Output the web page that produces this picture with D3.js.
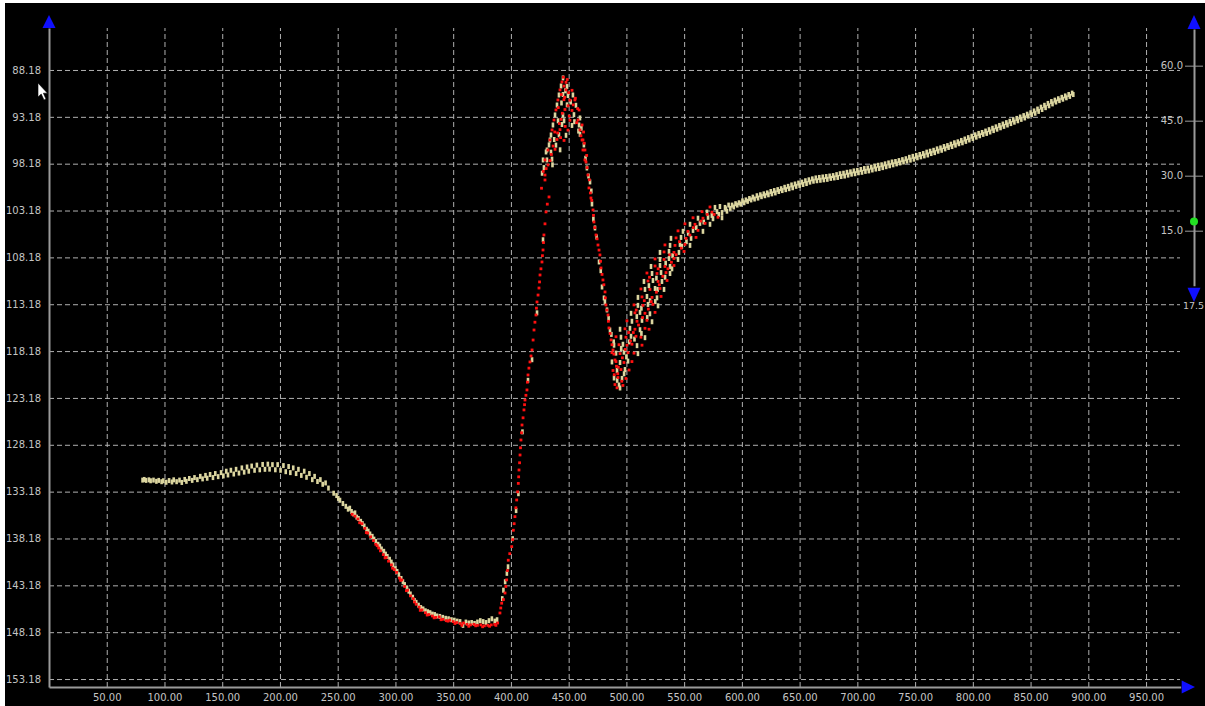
<!DOCTYPE html>
<html><head><meta charset="utf-8">
<script src="https://cdn.jsdelivr.net/npm/d3@7"></script>
<style>body{margin:0;background:#fff;}svg{display:block;}</style>
</head><body>
<svg id="c" width="1205" height="706"></svg>
<script>
// ---------- data ----------
const xTicks = [50,100,150,200,250,300,350,400,450,500,550,600,650,700,750,800,850,900,950];
const yTicks = [88.18,93.18,98.18,103.18,108.18,113.18,118.18,123.18,128.18,133.18,138.18,143.18,148.18,153.18];
const rightTicks = [15,30,45,60];
const markerValue = 17.5;
const markerLabel = "17.5";

const beigeArc = [[81.0,131.95],[82.5,131.88],[84.0,131.98],[86.5,131.92],[88.0,132.02],[90.5,131.95],[93.0,132.08],[95.0,131.98],[97.5,132.12],[99.0,132.02],[101.5,132.18],[104.0,132.00],[106.5,132.15],[108.0,131.92],[110.5,132.12],[113.0,131.95],[115.0,132.20],[117.5,131.88],[119.0,132.08],[121.5,131.78],[124.0,131.98],[126.0,131.68],[128.5,131.90],[131.0,131.55],[133.0,131.82],[135.5,131.45],[137.0,131.75],[139.5,131.35],[142.0,131.68],[144.0,131.25],[146.5,131.58],[149.0,131.15],[151.0,131.50],[153.5,131.00],[155.0,131.40],[157.5,130.90],[160.0,131.30],[162.0,130.80],[164.5,131.20],[167.0,130.65],[169.0,131.10],[171.5,130.55],[173.0,131.00],[175.5,130.45],[178.0,130.90],[180.0,130.35],[182.5,130.85],[185.0,130.28],[187.0,130.80],[189.5,130.25],[191.0,130.78],[193.5,130.30],[196.0,130.85],[198.0,130.30],[200.5,130.90],[203.0,130.40],[205.0,131.05],[207.5,130.50],[209.0,131.15],[211.5,130.65],[214.0,131.25],[216.0,130.80],[218.5,131.45],[221.0,131.00],[223.0,131.65],[225.5,131.25],[228.0,131.90],[230.0,131.55],[232.5,132.10],[235.0,131.90],[237.0,132.40],[239.5,132.25],[242.0,132.80],[246.5,133.35],[249.0,133.60],[250.5,133.90],[252.0,134.10],[254.5,134.45]];

const beigeTrough = [[257.0,134.75],[259.0,135.05],[260.5,134.95],[262.0,135.30],[263.5,135.55],[265.0,135.45],[266.5,135.90],[268.0,136.05],[270.0,136.35],[271.5,136.60],[273.0,136.85],[275.0,137.20],[276.5,137.40],[278.0,137.70],[280.0,137.95],[281.5,138.25],[283.0,138.50],[285.0,138.80],[286.5,139.00],[288.0,139.30],[290.0,139.55],[291.5,139.85],[293.0,140.10],[295.0,140.40],[296.5,140.70],[298.0,141.00],[300.0,141.40],[301.5,141.70],[303.0,142.05],[305.0,142.45],[306.5,142.80],[308.0,143.10],[310.0,143.45],[311.5,143.80],[313.0,144.10],[315.0,144.45],[316.5,144.80],[318.0,145.00],[320.0,145.30],[322.0,145.55],[324.0,145.70],[326.0,145.90],[328.0,146.00],[330.0,146.10],[332.0,146.25],[334.0,146.30],[336.0,146.45],[338.5,146.50],[341.0,146.60],[343.5,146.70],[346.0,146.75],[348.5,146.85],[351.0,146.90],[353.5,147.00],[356.0,147.05],[358.5,147.45],[361.0,147.10],[363.5,147.20],[366.0,147.15],[368.5,147.25],[371.0,147.10],[373.5,146.95],[376.0,147.05],[378.5,147.15],[381.0,146.95],[383.5,146.75],[386.0,147.00],[388.0,146.85],[392.5,144.60],[393.5,143.70],[395.0,142.80],[396.5,141.90],[397.5,141.20],[401.5,138.20],[404.5,135.20],[406.5,133.40],[410.0,126.80],[414.8,121.30],[418.3,119.10],[422.6,114.10],[427.8,106.30]];

const beigePeak = [[427.8,97.78],[428.6,98.60],[427.0,99.20],[431.2,96.72],[433.8,95.65],[431.2,97.78],[435.6,97.70],[430.4,96.93],[434.7,96.95],[433.0,96.18],[439.0,96.20],[434.7,95.12],[441.6,95.10],[447.7,95.15],[459.8,95.05],[436.4,94.05],[444.2,94.00],[452.9,94.10],[459.0,94.05],[438.2,92.98],[445.1,93.00],[454.6,92.95],[439.9,91.92],[448.6,91.90],[456.3,91.95],[441.6,90.85],[445.1,90.80],[449.4,90.90],[453.7,90.85],[443.4,89.89],[448.6,89.95],[445.1,89.03],[459.8,93.30],[463.2,96.18],[465.8,98.64],[468.5,100.13],[470.2,102.48],[472.8,105.04],[476.3,108.67],[478.9,111.34],[480.6,112.51],[483.2,113.79],[485.8,115.93],
  [437.5,95.60],[440.8,93.60],[443.8,91.70],[447.2,90.40],[451.8,91.60],[455.0,93.70],[458.5,94.70],[446.0,93.60],[442.6,96.70],[436.0,98.30],
  [461.0,94.40],[464.6,97.60],[467.2,99.50],[469.6,101.10],[471.4,104.10],[474.2,106.00],[477.8,109.60],[481.4,112.90],[484.6,114.70],[487.0,116.40],[489.0,117.20]];

const beigeRecovery = [[494.5,122.12],[493.6,121.80],[489.3,121.05],[496.2,121.10],[491.9,120.25],[498.8,120.15],[487.5,119.34],[494.5,119.40],[501.4,119.25],[491.0,118.40],[497.9,118.30],[510.0,118.45],[489.3,117.55],[497.0,117.45],[509.2,117.60],[495.3,116.70],[504.0,116.60],[516.1,116.75],[494.5,115.85],[503.1,115.75],[511.8,115.90],[504.8,115.00],[513.5,114.90],[522.2,115.05],[504.0,114.15],[511.8,114.05],[520.4,114.20],[510.0,113.30],[518.7,113.20],[527.4,113.35],[510.0,112.45],[517.8,112.35],[526.5,112.50],[516.1,111.60],[524.8,111.50],[532.6,111.60],[515.2,110.75],[523.0,110.65],[530.8,110.75],[522.2,109.90],[530.0,109.80],[537.8,109.90],[521.3,109.15],[529.1,109.05],[537.8,109.15],[529.1,108.40],[536.9,108.30],[544.7,108.40],[529.1,107.65],[536.9,107.55],[545.5,107.65],[537.8,106.90],[546.4,106.80],[555.1,106.90],[538.6,106.15],[547.3,106.05],[556.0,106.15],[549.0,105.40],[557.7,105.30],[566.3,105.40],[555.1,104.65],[563.7,104.55],[572.4,104.65],[562.0,104.00],[570.7,103.90],[575.0,104.05],[582.8,103.95],[569.8,103.35],[578.5,103.30],[582.8,103.40],[587.1,103.25],[576.7,102.85],[581.0,102.75],[585.4,102.85],
  [492.0,121.30],[498.0,120.60],[500.0,118.80],[495.5,117.90],[502.5,117.20],[507.0,116.90],[513.0,116.30],[509.0,114.50],[518.0,114.60],[513.0,113.60],[520.5,112.80],[525.0,112.90],[519.5,111.20],[527.0,111.60],[533.5,110.30],[526.0,110.40],[534.0,108.80],[540.0,108.00],[539.5,109.40],[548.0,107.00],[552.0,106.50],[553.5,105.60],[560.5,105.00],[567.0,104.40],[574.0,103.70],[580.0,103.60],[586.0,103.00],[588.5,102.60]];

const beigeTail = [[590,102.95],[591.5,102.60],[593,102.80],[594.5,102.45],[596,102.60],[597.5,102.35],[599,102.50],[600.5,102.15],[602,102.35],[603.5,102.05],[605,102.20],[606.5,101.90],[608,102.05],[609.5,101.75],[611,101.95],[613,101.60],[614,101.85],[616,101.50],[617,101.70],[619,101.40],[620,101.60],[622,101.30],[623,101.50],[625,101.15],[626,101.40],[628,101.05],[629,101.30],[631,100.95],[632,101.15],[634,100.85],[635,101.05],[637,100.70],[638,100.95],[640,100.60],[641,100.85],[643,100.45],[644,100.75],[646,100.35],[647,100.60],[649,100.25],[650,100.50],[652,100.15],[653,100.40],[655,100.00],[656,100.30],[658,99.90],[659,100.15],[661,99.80],[662,100.05],[664,99.70],[665,100.00],[667,99.65],[668,99.95],[670,99.60],[671,99.90],[673,99.55],[674,99.85],[676,99.50],[677,99.75],[679,99.45],[680,99.70],[682,99.35],[683,99.65],[685,99.25],[686,99.55],[688,99.20],[689,99.50],[691,99.10],[692,99.40],[694,99.05],[695,99.30],[697,98.95],[698,99.25],[700,98.90],[701,99.15],[703,98.80],[704,99.10],[706,98.70],[707,99.00],[709,98.65],[710,98.95],[712,98.55],[713,98.85],[715,98.45],[716,98.75],[718,98.35],[719,98.70],[721,98.30],[722,98.60],[724,98.20],[725,98.50],[727,98.10],[728,98.40],[730,98.00],[731,98.30],[733,97.95],[734,98.20],[736,97.85],[737,98.10],[739,97.75],[740,98.00],[742,97.65],[743,97.90],[745,97.50],[746,97.80],[748,97.40],[749,97.70],[751,97.30],[752,97.55],[754,97.20],[755,97.45],[757,97.10],[758,97.35],[760,96.95],[761,97.25],[763,96.85],[764,97.10],[766,96.75],[767,97.00],[769,96.60],[770,96.85],[772,96.50],[773,96.75],[775,96.35],[776,96.60],[778,96.25],[779,96.45],[781,96.10],[782,96.35],[784,95.95],[785,96.20],[787,95.85],[788,96.05],[790,95.70],[791,95.95],[793,95.55],[794,95.80],[796,95.40],[797,95.65],[799,95.25],[800,95.50],[802,95.10],[803,95.35],[805,94.95],[806,95.20],[808,94.85],[809,95.05],[811,94.70],[812,94.95],[814,94.55],[815,94.80],[817,94.40],[818,94.65],[820,94.25],[821,94.50],[823,94.10],[824,94.35],[826,93.95],[827,94.20],[829,93.80],[830,94.05],[832,93.65],[833,93.90],[835,93.50],[836,93.75],[838,93.35],[839,93.60],[841,93.20],[842,93.45],[844,93.05],[845,93.30],[847,92.90],[848,93.10],[850,92.75],[851,92.95],[853,92.55],[854,92.80],[856,92.35],[857,92.60],[859,92.15],[860,92.40],[862,91.95],[863,92.20],[865,91.75],[866,92.00],[868,91.55],[869,91.80],[871,91.40],[872,91.60],[874,91.25],[875,91.45],[877,91.10],[878,91.30],[880,90.95],[881,91.15],[883,90.80],[884,91.00],[886,90.65],[887,90.80]];

const redTrough = [[265.0,135.80],[267.5,136.10],[269.0,136.50],[271.0,136.60],[273.5,137.10],[276.0,137.60],[278.5,138.00],[281.0,138.40],[283.0,138.80],[285.5,139.20],[287.0,139.50],[289.5,139.90],[292.0,140.20],[294.0,140.60],[296.5,141.00],[299.0,141.50],[301.0,141.80],[303.5,142.40],[305.5,142.60],[308.0,143.30],[310.5,143.70],[313.0,144.30],[315.5,144.60],[318.0,145.20],[320.5,145.50],[323.0,145.80],[326.0,146.10],[329.0,146.30],[332.0,146.45],[335.0,146.60],[338.0,146.55],[341.0,146.80],[344.0,146.95],[347.0,146.90],[350.0,147.05],[353.0,147.15],[356.0,147.25],[359.0,147.20],[362.0,147.35],[365.0,147.40],[368.0,147.35],[371.0,147.45],[374.0,147.40],[377.0,147.50],[380.0,147.45],[383.0,147.40],[386.0,147.35],[388.5,147.20],
  [262.5,135.60],[274.8,137.55],[284.2,138.95],[291.0,140.25],[297.5,141.35],[304.5,142.65],[309.5,143.75],[316.5,144.95],[321.5,145.85],[327.5,146.35],[333.5,146.65],[339.5,146.85],[345.5,147.00],[351.5,147.25],[357.5,147.45],[363.5,147.55],[369.5,147.50],[375.5,147.60],[381.5,147.55],[387.0,147.45]];

const redRise = [[390.5,146.13],[392.0,145.09],[394.9,144.00],[396.3,142.60],[397.7,140.50],[400.7,139.05],[402.1,137.30],[403.5,135.85],[405.0,134.07],[406.4,132.30],[407.0,130.87],[407.9,129.27],[408.7,127.67],[409.6,126.07],[411.3,124.46],[412.2,123.40],[413.9,122.33],[414.8,120.73],[416.5,119.34],[418.3,118.06],[420.0,115.93],[421.7,114.33],[422.6,112.94],[424.3,111.45],[425.2,110.06],[426.9,108.67],[427.8,107.39],[428.6,105.79],[430.4,103.33],[433.0,101.73],[429.5,99.92],[429.5,99.39],[432.1,98.32],
  [391.2,145.60],[393.5,144.70],[395.6,143.30],[397.0,141.60],[399.0,139.80],[401.5,138.30],[402.8,136.60],[404.3,134.90],[405.8,133.20],[406.7,131.60],[407.5,130.10],[408.3,128.50],[409.2,126.90],[410.5,125.30],[411.8,123.90],[413.0,122.90],[414.3,121.50],[415.6,120.00],[417.4,118.70],[419.2,117.00],[420.8,115.10],[422.1,113.60],[423.5,112.20],[424.8,110.80],[426.0,109.40],[427.3,108.00],[428.2,106.60],[429.5,104.60],[431.5,102.50],[428.0,99.00],[430.5,98.70],[426.5,100.80]];

const redPeak = [[429.5,97.78],[433.8,97.85],[464.1,97.78],[432.1,96.72],[438.2,96.65],[462.4,96.72],[433.8,95.65],[439.9,95.60],[446.0,95.70],[461.6,95.65],[435.6,94.58],[442.5,94.55],[449.4,94.60],[459.8,94.58],[437.3,93.52],[443.4,93.45],[451.1,93.55],[458.1,93.52],[439.0,92.45],[446.8,92.40],[452.9,92.50],[459.0,92.45],[440.7,91.38],[445.9,91.35],[451.1,91.40],[455.4,91.38],[442.5,90.31],[447.7,90.30],[452.9,90.35],[444.2,89.46],[447.7,89.50],[461.6,94.05],[462.4,95.65],[464.1,96.72],[465.0,98.00],[466.7,99.39],[467.6,100.77],[469.3,101.84],[471.1,103.12],[471.9,104.40],[473.7,105.79],[475.4,106.86],[477.1,107.92],[478.0,109.31],[479.7,110.59],[481.5,111.87],[482.3,113.26],[484.1,114.33],[484.9,115.71],[486.7,116.99],[488.4,118.06],[490.1,119.13],
  [436.5,96.30],[440.5,94.90],[443.0,95.40],[447.0,94.20],[450.5,93.10],[442.0,93.90],[444.5,92.80],[449.5,92.00],[454.0,91.90],[446.5,91.10],[450.0,90.60],[443.6,90.80],[446.0,89.90],[448.8,89.20],[445.4,88.95],[441.0,92.20],[438.0,94.80],[435.0,97.20],[457.0,93.80],[460.6,95.20],[457.8,92.30],[455.8,91.20],
  [462.9,94.80],[463.5,96.00],[465.6,97.30],[466.0,98.60],[467.9,99.90],[468.8,101.30],[470.0,102.10],[471.5,103.70],[472.6,105.00],[474.6,106.20],[476.3,107.40],[477.6,108.60],[478.9,110.00],[480.5,111.10],[481.8,112.50],[483.1,113.80],[484.4,115.00],[485.9,116.30],[487.5,117.50],[489.2,118.50],[491.4,119.80],[492.5,120.60]];

const redRecovery = [[491.9,122.10],[490.1,121.75],[497.0,121.85],[492.7,121.00],[499.6,121.10],[488.4,120.25],[495.3,120.15],[502.3,120.20],[491.0,119.30],[497.9,119.40],[504.8,119.30],[487.5,118.35],[494.5,118.45],[501.4,118.35],[506.6,118.40],[493.6,117.50],[500.5,117.55],[504.8,117.45],[513.5,117.55],[491.0,116.65],[499.6,116.70],[508.3,116.60],[512.6,116.70],[498.8,115.80],[507.4,115.85],[516.1,115.75],[519.6,115.85],[500.5,114.95],[509.2,115.00],[517.8,114.90],[507.4,114.10],[516.1,114.15],[524.8,114.05],[506.6,113.25],[514.4,113.30],[523.0,113.20],[513.5,112.40],[522.2,112.45],[530.0,112.35],[512.6,111.55],[520.4,111.60],[529.1,111.50],[518.7,110.70],[527.4,110.75],[535.2,110.65],[517.8,109.85],[526.5,109.90],[534.3,109.80],[524.8,109.10],[533.4,109.15],[541.2,109.05],[524.8,108.35],[532.6,108.40],[541.2,108.30],[532.6,107.60],[541.2,107.65],[549.9,107.55],[533.4,106.85],[542.1,106.90],[550.7,106.80],[543.0,106.10],[551.6,106.15],[560.3,106.05],[544.7,105.35],[553.3,105.40],[562.0,105.30],[550.7,104.60],[559.4,104.65],[568.1,104.55],[557.7,103.95],[566.3,104.00],[579.3,103.90],[565.5,103.30],[574.1,103.35],[572.4,102.80],
  [489.5,120.70],[493.0,119.90],[496.5,118.90],[499.0,118.00],[503.5,117.10],[506.0,116.20],[510.5,115.40],[514.0,114.60],[519.0,113.70],[521.5,112.90],[526.0,111.90],[528.5,111.10],[531.5,110.20],[536.0,109.40],[539.0,108.70],[543.0,107.90],[547.5,107.20],[546.0,106.50],[555.0,105.80],[558.0,105.00],[564.5,104.30],[570.0,103.60],[576.0,103.60],[496.0,121.40],[502.0,116.20],[508.5,113.80],[515.5,112.80],[520.0,110.30],[527.5,109.40],[537.5,107.90]];

// ---------- chart ----------
const svg = d3.select("#c");
const FONT = "DejaVu Sans";
const LABEL = "#c4c4c4";
const GRID = "#b0b0b0";
const AXIS = "#9a9a9a";
const BLUE = "#1010ff";

svg.append("rect").attr("x",5).attr("y",3).attr("width",1200).attr("height",703).attr("fill","#000");

const x = d3.scaleLinear().domain([0,980]).range([49,1180.7]);
const y = d3.scaleLinear().domain([83.70,154.03]).range([28,687]);
const r = d3.scaleLinear().domain([0,70]).range([285.7,29]);

// horizontal grid
const hg = svg.append("g").attr("transform","translate(49,0)")
  .call(d3.axisRight(y).tickValues(yTicks).tickSize(1131).tickFormat(""));
hg.select(".domain").remove();
hg.selectAll("line").attr("stroke",GRID).attr("stroke-dasharray","5,3");
// vertical grid
const vg = svg.append("g").attr("transform","translate(0,687)")
  .call(d3.axisTop(x).tickValues(xTicks).tickSize(659).tickFormat(""));
vg.select(".domain").remove();
vg.selectAll("line").attr("stroke",GRID).attr("stroke-dasharray","5,3");

// left axis
const la = svg.append("g").attr("transform","translate(49,0)")
  .call(d3.axisLeft(y).tickValues(yTicks).tickSize(0).tickPadding(8).tickFormat(d3.format(".2f")));
la.select(".domain").attr("stroke",AXIS).attr("stroke-width",2);
la.selectAll("text").attr("fill",LABEL).attr("font-family",FONT).attr("font-size",10);

// bottom axis
const ba = svg.append("g").attr("transform","translate(0,687)")
  .call(d3.axisBottom(x).tickValues(xTicks).tickSize(0).tickPadding(7).tickFormat(d3.format(".2f")));
ba.select(".domain").attr("stroke",AXIS).attr("stroke-width",2);
ba.selectAll("text").attr("fill",LABEL).attr("font-family",FONT).attr("font-size",10);

// right axis
const ra = svg.append("g").attr("transform","translate(1194,0)")
  .call(d3.axisLeft(r).tickValues(rightTicks).tickSizeInner(9).tickSizeOuter(0).tickPadding(2).tickFormat(d3.format(".1f")));
ra.select(".domain").attr("stroke",AXIS).attr("stroke-width",2);
ra.selectAll("line").attr("stroke",AXIS);
ra.selectAll("text").attr("fill",LABEL).attr("font-family",FONT).attr("font-size",10);
const ra2 = svg.append("g").attr("transform","translate(1194,0)")
  .call(d3.axisRight(r).tickValues(rightTicks).tickSize(9).tickFormat(""));
ra2.select(".domain").remove();
ra2.selectAll("line").attr("stroke",AXIS);

// arrows
const ax0 = x.range()[0], ay0 = y.range()[0], ay1 = y.range()[1];
svg.append("path").attr("d",`M${ax0},15L${ax0+6.5},${ay0}L${ax0-6.5},${ay0}Z`).attr("fill",BLUE);
svg.append("path").attr("d",`M1194,15L1200.5,${r.range()[1]}L1187.5,${r.range()[1]}Z`).attr("fill",BLUE);
svg.append("path").attr("d",`M1194,302L1200.5,${r.range()[0]+2}L1187.5,${r.range()[0]+2}Z`).attr("fill",BLUE);
svg.append("path").attr("d",`M1195,${ay1}L${x.range()[1]+1},${ay1-6.5}L${x.range()[1]+1},${ay1+6.5}Z`).attr("fill",BLUE);

// marker on right axis
svg.append("circle").attr("cx",1194).attr("cy",r(markerValue)).attr("r",4).attr("fill","#22e022");
svg.append("text").attr("x",1183).attr("y",306).attr("dy","0.35em").text(markerLabel)
  .attr("fill",LABEL).attr("font-family",FONT).attr("font-size",9.5);

// points
const beige = [].concat(beigeArc, beigeTrough, beigePeak, beigeRecovery, beigeTail);
const red = [].concat(redTrough, redRise, redPeak, redRecovery);
svg.append("g").selectAll("rect").data(beige).join("rect")
  .attr("x",d=>x(d[0])-1.3).attr("y",d=>y(d[1])-2.5).attr("width",2.6).attr("height",5)
  .attr("fill","#dcd6a0");
svg.append("g").selectAll("rect").data(red).join("rect")
  .attr("x",d=>x(d[0])-1.4).attr("y",d=>y(d[1])-1.4).attr("width",2.8).attr("height",2.8)
  .attr("fill","#ff1010");

// mouse cursor
svg.append("path").attr("d","M38,83L38,97L41.2,94L44,100L46,99L43.4,93.2L47.5,93.2Z")
  .attr("fill","#fff").attr("stroke","#000").attr("stroke-width",0.6);
</script>
</body></html>
